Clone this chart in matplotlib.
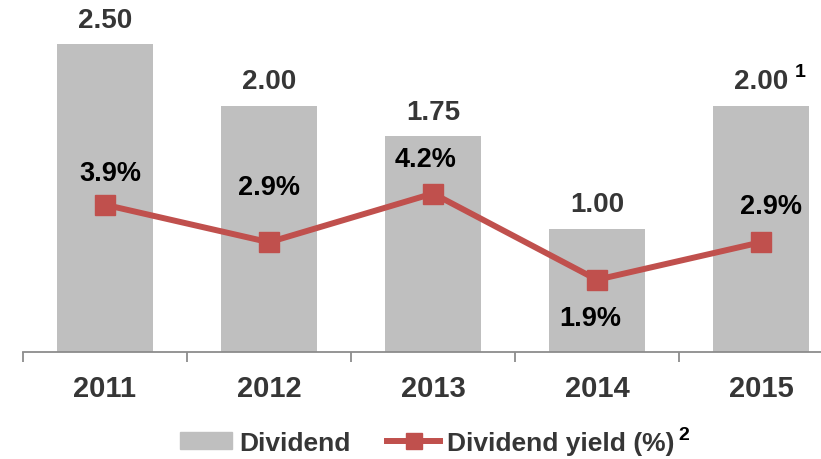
import matplotlib.pyplot as plt
from matplotlib.patches import Patch
from matplotlib.lines import Line2D

plt.rc('font', family='Liberation Sans', weight='bold')

years = ['2011', '2012', '2013', '2014', '2015']
dividend = [2.50, 2.00, 1.75, 1.00, 2.00]
yield_pct = [3.9, 2.9, 4.2, 1.9, 2.9]

bar_color = '#BFBFBF'
line_color = '#C0504D'
text_grey = '#363636'

# label offsets (points) for the yield labels
pct_dx = [4, 0, -5, -5, 7]
pct_dy = [18, 34.5, 19.5, -32.5, 21]

fig = plt.figure(figsize=(8.21, 4.60), dpi=100)
ax = fig.add_axes([23/821, 107/460, 798/821, 333/460])

pos = list(range(len(years)))
bars = ax.bar(pos, dividend, 0.58, color=bar_color, zorder=1)
ax.set_xlim(-0.5, 4.366)
ax.set_ylim(0, 333/123.2)

for s in ['top', 'left', 'right']:
    ax.spines[s].set_visible(False)
ax.spines['bottom'].set_color('#8C8C8C')
ax.spines['bottom'].set_linewidth(1.3)
ax.set_yticks([])
ax.set_xticks(pos)
ax.set_xticklabels(years, fontsize=21, color=text_grey)
ax.tick_params(axis='x', which='major', length=0, pad=16)
ax.set_xticks([p - 0.5 for p in pos], minor=True)
ax.tick_params(axis='x', which='minor', length=7, width=1.3, color='#8C8C8C')

for i, v in enumerate(dividend):
    ax.annotate('%0.2f' % v, (i, v), xytext=(0, 12.5), textcoords='offset points',
                ha='center', va='baseline', fontsize=20, color=text_grey)
# footnote on 2015
ax.annotate('1', (4, dividend[4]), xytext=(24, 21), textcoords='offset points',
            ha='left', va='baseline', fontsize=14, color='black')

ax2 = ax.twinx()
ax2.plot(pos, yield_pct, color=line_color, lw=4.3, marker='s', ms=14, zorder=3)
ax2.set_ylim(-1/37.5, 332/37.5)
for s in ['top', 'left', 'right', 'bottom']:
    ax2.spines[s].set_visible(False)
ax2.set_yticks([])

for i, v in enumerate(yield_pct):
    ax2.annotate('%0.1f%%' % v, (i, v), xytext=(pct_dx[i], pct_dy[i]), textcoords='offset points',
                 ha='center', va='baseline', fontsize=19.5, color='black')

handles = [Patch(color=bar_color, label='Dividend'),
           Line2D([], [], color=line_color, lw=4.3, marker='s', ms=12, label='Dividend yield (%)')]
leg = fig.legend(handles=handles, loc='center', bbox_to_anchor=(427/821, 1 - 444/460),
                 ncol=2, frameon=False, fontsize=19, handlelength=2.0, handleheight=0.6,
                 handletextpad=0.25, columnspacing=1.4, borderpad=0, borderaxespad=0)
for t in leg.get_texts():
    t.set_color(text_grey)

fig.canvas.draw()
bb = leg.get_texts()[1].get_window_extent()
fig.text((bb.x1 + 4) / 821, (bb.y0 + 16) / 460, '2', fontsize=14, color='black',
         ha='left', va='baseline')

fig.savefig('out.png', dpi=100)
